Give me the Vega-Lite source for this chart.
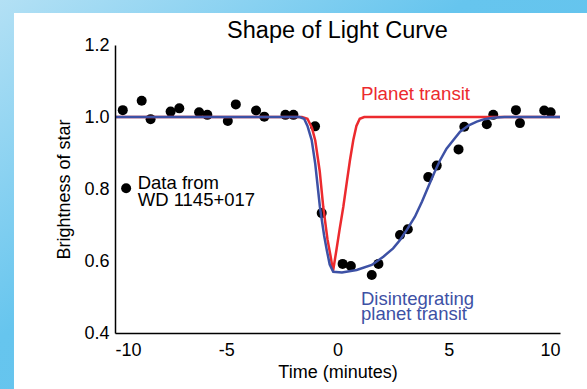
{
  "$schema": "https://vega.github.io/schema/vega-lite/v6.json",
  "width": 445,
  "height": 288,
  "autosize": "none",
  "padding": {"left": 115, "top": 45, "right": 27, "bottom": 56},
  "background": "#6cc6ee",
  "config": {
    "font": "Liberation Sans",
    "view": {"stroke": null},
    "axis": {
      "grid": false, "ticks": false, "tickSize": 0, "domainColor": "#000000", "domainWidth": 1.5,
      "labelFont": "Liberation Sans", "labelFontSize": 18, "labelColor": "#000000",
      "titleFont": "Liberation Sans", "titleFontSize": 18, "titleFontWeight": "normal", "titleColor": "#000000"
    }
  },
  "title": {"text": "Shape of Light Curve", "fontSize": 23.5, "fontWeight": "normal", "color": "#000000", "font": "Liberation Sans", "frame": "group", "anchor": "middle", "baseline": "alphabetic", "offset": -43, "dy": 27},
  "datasets": {
    "pts": [
      {"t": -9.65, "b": 1.019}, {"t": -8.80, "b": 1.045}, {"t": -8.40, "b": 0.994}, {"t": -7.50, "b": 1.015},
      {"t": -7.11, "b": 1.024}, {"t": -6.22, "b": 1.013}, {"t": -5.85, "b": 1.006}, {"t": -4.93, "b": 0.989},
      {"t": -4.57, "b": 1.035}, {"t": -3.66, "b": 1.018}, {"t": -3.29, "b": 1.001}, {"t": -2.34, "b": 1.006},
      {"t": -1.98, "b": 1.006}, {"t": -1.01, "b": 0.974}, {"t": -0.71, "b": 0.733}, {"t": 0.23, "b": 0.592},
      {"t": 0.60, "b": 0.586}, {"t": 1.54, "b": 0.561}, {"t": 1.84, "b": 0.592}, {"t": 2.81, "b": 0.672},
      {"t": 3.16, "b": 0.688}, {"t": 4.08, "b": 0.833}, {"t": 4.46, "b": 0.865}, {"t": 5.44, "b": 0.910},
      {"t": 5.70, "b": 0.973}, {"t": 6.71, "b": 0.980}, {"t": 7.00, "b": 1.006}, {"t": 8.02, "b": 1.019},
      {"t": 8.20, "b": 0.983}, {"t": 9.29, "b": 1.018}, {"t": 9.58, "b": 1.013},
      {"t": -9.5, "b": 0.802}
    ],
    "red": [
      {"t": -10, "b": 1.0}, {"t": -1.6, "b": 1.0}, {"t": -1.35, "b": 0.995}, {"t": -1.15, "b": 0.97},
      {"t": -1.0, "b": 0.935}, {"t": -0.8, "b": 0.85}, {"t": -0.64, "b": 0.75}, {"t": -0.45, "b": 0.66},
      {"t": -0.3, "b": 0.61}, {"t": -0.2, "b": 0.572}, {"t": -0.05, "b": 0.63}, {"t": 0.1, "b": 0.69},
      {"t": 0.26, "b": 0.75}, {"t": 0.42, "b": 0.82}, {"t": 0.56, "b": 0.88}, {"t": 0.71, "b": 0.936},
      {"t": 0.85, "b": 0.975}, {"t": 1.0, "b": 0.995}, {"t": 1.2, "b": 1.0}, {"t": 10, "b": 1.0}
    ],
    "blue": [
      {"t": -10, "b": 1.0}, {"t": -1.7, "b": 1.0}, {"t": -1.5, "b": 0.995}, {"t": -1.35, "b": 0.975},
      {"t": -1.16, "b": 0.936}, {"t": -1.0, "b": 0.87}, {"t": -0.79, "b": 0.75}, {"t": -0.6, "b": 0.67},
      {"t": -0.48, "b": 0.63}, {"t": -0.35, "b": 0.59}, {"t": -0.19, "b": 0.57}, {"t": 0.2, "b": 0.568},
      {"t": 0.86, "b": 0.575}, {"t": 1.54, "b": 0.589}, {"t": 2.06, "b": 0.612}, {"t": 2.5, "b": 0.635},
      {"t": 2.81, "b": 0.658}, {"t": 3.15, "b": 0.69}, {"t": 3.48, "b": 0.723}, {"t": 3.8, "b": 0.765},
      {"t": 4.08, "b": 0.806}, {"t": 4.35, "b": 0.845}, {"t": 4.61, "b": 0.88}, {"t": 4.9, "b": 0.912},
      {"t": 5.21, "b": 0.936}, {"t": 5.51, "b": 0.959}, {"t": 5.9, "b": 0.977}, {"t": 6.26, "b": 0.987},
      {"t": 6.6, "b": 0.994}, {"t": 7.0, "b": 0.998}, {"t": 7.5, "b": 1.0}, {"t": 10, "b": 1.0}
    ]
  },
  "layer": [
    {
      "data": {"values": [{}]},
      "mark": {"type": "rect", "clip": false, "fill": {"gradient": "linear", "x1": 0, "y1": 0, "x2": 1, "y2": 1, "stops": [{"offset": 0, "color": "#b8e2f5"}, {"offset": 0.4, "color": "#66c5ee"}, {"offset": 1, "color": "#60c1ec"}]}},
      "encoding": {
        "x": {"datum": -16, "type": "quantitative", "scale": {"domain": [-10, 10], "nice": false},
              "axis": {"title": "Time (minutes)", "values": [-10, -5, 0, 5, 10], "labelExpr": "toString(datum.value)", "labelPadding": 8, "titlePadding": 4, "zindex": 2}},
        "x2": {"datum": 12},
        "y": {"datum": 1.35, "type": "quantitative", "scale": {"domain": [0.4, 1.2], "nice": false},
              "axis": {"title": "Brightness of star", "values": [0.4, 0.6, 0.8, 1.0, 1.2], "format": ".1f", "labelPadding": 6, "titlePadding": 10, "zindex": 2}},
        "y2": {"datum": 0.1}
      }
    },
    {
      "data": {"values": [{}]},
      "mark": {"type": "rect", "clip": false, "fill": "#ffffff"},
      "encoding": {
        "x": {"datum": -14.54, "type": "quantitative"},
        "x2": {"datum": 12},
        "y": {"datum": 1.289, "type": "quantitative"},
        "y2": {"datum": 0.1}
      }
    },
    {
      "data": {"name": "pts"},
      "mark": {"type": "circle", "size": 100, "opacity": 1, "color": "#000000"},
      "encoding": {
        "x": {"field": "t", "type": "quantitative"},
        "y": {"field": "b", "type": "quantitative"}
      }
    },
    {
      "data": {"name": "red"},
      "mark": {"type": "line", "color": "#ec2a2e", "strokeWidth": 2.5},
      "encoding": {"x": {"field": "t", "type": "quantitative"}, "y": {"field": "b", "type": "quantitative"}}
    },
    {
      "data": {"name": "blue"},
      "mark": {"type": "line", "color": "#3d51a5", "strokeWidth": 2.5},
      "encoding": {"x": {"field": "t", "type": "quantitative"}, "y": {"field": "b", "type": "quantitative"}}
    },
    {
      "data": {"values": [{"t": -8.98, "b": 0.799, "label": ["Data from", "WD 1145+017"]}]},
      "mark": {"type": "text", "align": "left", "baseline": "alphabetic", "fontSize": 18.5, "lineHeight": 16.5, "color": "#000000", "font": "Liberation Sans"},
      "encoding": {"x": {"field": "t", "type": "quantitative"}, "y": {"field": "b", "type": "quantitative"}, "text": {"field": "label"}}
    },
    {
      "data": {"values": [{"t": 1.056, "b": 1.047, "label": "Planet transit"}]},
      "mark": {"type": "text", "align": "left", "baseline": "alphabetic", "fontSize": 18.7, "color": "#ec2a2e", "font": "Liberation Sans"},
      "encoding": {"x": {"field": "t", "type": "quantitative"}, "y": {"field": "b", "type": "quantitative"}, "text": {"field": "label"}}
    },
    {
      "data": {"values": [{"t": 1.056, "b": 0.479, "label": ["Disintegrating", "planet transit"]}]},
      "mark": {"type": "text", "align": "left", "baseline": "alphabetic", "fontSize": 18.5, "lineHeight": 15.5, "color": "#3d51a5", "font": "Liberation Sans"},
      "encoding": {"x": {"field": "t", "type": "quantitative"}, "y": {"field": "b", "type": "quantitative"}, "text": {"field": "label"}}
    }
  ]
}
